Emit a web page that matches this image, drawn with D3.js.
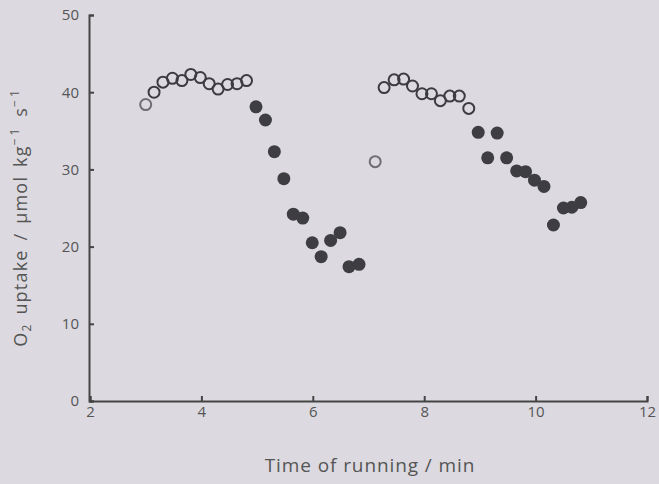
<!DOCTYPE html>
<html>
<head>
<meta charset="utf-8">
<script src="https://cdn.jsdelivr.net/npm/d3@7"></script>
<style>
  body { margin: 0; background: #dcdae0; }
  svg { display: block; }
  .axis text { font-family: "Open Sans", sans-serif; font-size: 15px; fill: #555; }
  .axis path, .axis line { stroke: #444; stroke-width: 2; }
</style>
</head>
<body>
<svg id="chart" width="659" height="484"></svg>
<script>
// O2 uptake during running: open = first phase of each bout, filled = second
const openTime1 = [3.00, 3.15, 3.31, 3.48, 3.65, 3.81, 3.98, 4.14, 4.30, 4.47, 4.64, 4.81];
const openVal1  = [38.4, 40.0, 41.3, 41.8, 41.5, 42.3, 41.9, 41.1, 40.4, 41.0, 41.1, 41.5];

const filledTime1 = [4.98, 5.15, 5.31, 5.48, 5.65, 5.82, 5.99, 6.15, 6.32, 6.49, 6.65, 6.83];
const filledVal1  = [38.1, 36.4, 32.3, 28.8, 24.2, 23.7, 20.5, 18.7, 20.8, 21.8, 17.4, 17.7];

const openTime2 = [7.12, 7.28, 7.46, 7.63, 7.79, 7.96, 8.13, 8.29, 8.46, 8.63, 8.80];
const openVal2  = [31.0, 40.6, 41.6, 41.7, 40.8, 39.8, 39.8, 38.9, 39.5, 39.5, 37.9];

const filledTime2 = [8.97, 9.14, 9.31, 9.48, 9.66, 9.82, 9.98, 10.15, 10.32, 10.50, 10.65, 10.81];
const filledVal2  = [34.8, 31.5, 34.7, 31.5, 29.8, 29.7, 28.6, 27.8, 22.8, 25.0, 25.1, 25.7];

const xTicks = [2, 4, 6, 8, 10, 12];
const yTicks = [0, 10, 20, 30, 40, 50];

const svg = d3.select('#chart');
const x = d3.scaleLinear().domain([2, 12]).range([90, 647]);
const y = d3.scaleLinear().domain([0, 50]).range([401, 15]);

// axes with inward ticks
svg.append('g')
	.attr('class', 'axis')
	.attr('transform', 'translate(0,401)')
	.call(d3.axisBottom(x).tickValues(xTicks).tickSize(-5).tickSizeOuter(-5).tickPadding(5));

svg.append('g')
	.attr('class', 'axis')
	.attr('transform', 'translate(89,0)')
	.call(d3.axisLeft(y).tickValues(yTicks).tickSize(-5).tickSizeOuter(-5).tickPadding(10));

const zip = (xs, ys) => xs.map((t, i) => ({ t, v: ys[i] }));

function drawOpen(data) {
	svg.append('g')
		.selectAll('circle')
		.data(data)
		.enter()
		.append('circle')
		.attr('cx', (d) => x(d.t))
		.attr('cy', (d) => y(d.v))
		.attr('r', 5.5)
		.attr('fill', 'none')
		.attr('stroke', (d, i) => (i === 0 ? '#6e6e72' : '#3c3c40'))
		.attr('stroke-width', 2);
}

function drawFilled(data) {
	svg.append('g')
		.selectAll('circle')
		.data(data)
		.enter()
		.append('circle')
		.attr('cx', (d) => x(d.t))
		.attr('cy', (d) => y(d.v))
		.attr('r', 6.5)
		.attr('fill', '#3e3e42');
}

drawOpen(zip(openTime1, openVal1));
drawFilled(zip(filledTime1, filledVal1));
drawOpen(zip(openTime2, openVal2));
drawFilled(zip(filledTime2, filledVal2));

// axis titles
svg.append('text')
	.attr('x', 370)
	.attr('y', 472)
	.attr('text-anchor', 'middle')
	.attr('font-family', '"Open Sans", sans-serif')
	.attr('font-size', 19)
	.attr('letter-spacing', 0.9)
	.attr('fill', '#555')
	.text('Time of running / min');

const yLab = svg.append('text')
	.attr('transform', 'translate(27,217) rotate(-90)')
	.attr('text-anchor', 'middle')
	.attr('font-family', '"Open Sans", sans-serif')
	.attr('font-size', 18)
	.attr('letter-spacing', 1.2)
	.attr('word-spacing', 3)
	.attr('fill', '#555');
yLab.append('tspan').text('O');
yLab.append('tspan').attr('font-size', 12).attr('dy', 4).text('2');
yLab.append('tspan').attr('dy', -4).text(' uptake / \u00b5mol kg');
yLab.append('tspan').attr('font-size', 12).attr('letter-spacing', 3).attr('dy', -8).text('\u22121');
yLab.append('tspan').attr('dy', 8).text(' s');
yLab.append('tspan').attr('font-size', 12).attr('letter-spacing', 3).attr('dy', -8).text('\u22121');
</script>
</body>
</html>
